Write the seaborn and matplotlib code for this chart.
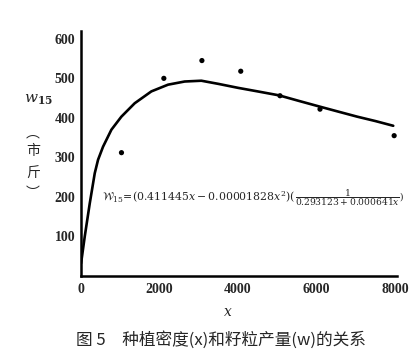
import matplotlib

matplotlib.use("Agg")

import matplotlib.pyplot as plt
import pandas as pd
import seaborn as sns
from matplotlib.ticker import MultipleLocator

density = [1030, 2110, 3080, 4070, 5070, 6090, 7980]
yield_obs = [312, 500, 545, 518, 456, 422, 355]

# Fitted curve
curve_x = [0, 94, 222, 349, 433, 560, 773, 1027, 1367, 1792, 2217, 2641, 3066,
           3500, 4000, 4500, 5045, 5550, 6064, 6550, 7040, 7500, 7957]
curve_w = [32, 100, 184, 260, 294, 327, 370, 403, 437, 467, 484, 492, 494,
           486, 476, 467, 457, 443, 429, 416, 403, 392, 380]

x_ticks = [0, 2000, 4000, 6000, 8000]
y_ticks = [100, 200, 300, 400, 500, 600]

SERIF = ["Liberation Serif", "DejaVu Serif"]
CJK = ["Noto Sans CJK SC", "DejaVu Sans"]


def main() -> None:
    sns.set_theme(style="white")
    plt.rcParams["font.family"] = SERIF
    plt.rcParams["mathtext.fontset"] = "dejavuserif"

    fig = plt.figure(figsize=(4.2, 3.62), dpi=100, facecolor="white")
    ax = fig.add_axes([0.193, 0.2376, 0.752, 0.677])

    pts = pd.DataFrame({"x": density, "w": yield_obs})
    fit = pd.DataFrame({"x": curve_x, "w": curve_w})

    sns.lineplot(data=fit, x="x", y="w", color="black", linewidth=1.9,
                 sort=False, estimator=None, ax=ax)
    sns.scatterplot(data=pts, x="x", y="w", color="black", s=14,
                    edgecolor="none", ax=ax, zorder=3)

    ax.set_xlim(0, 8050)
    ax.set_ylim(0, 620)
    ax.set_xticks(x_ticks)
    ax.xaxis.set_minor_locator(MultipleLocator(1000))
    ax.set_yticks(y_ticks)
    ax.tick_params(axis="both", which="both", direction="in", length=4,
                   width=1.2, color="black", labelsize=10, pad=4)
    ax.tick_params(axis="x", which="major", pad=5)
    for lab in ax.get_xticklabels() + ax.get_yticklabels():
        lab.set_fontweight("bold")

    for side in ("top", "right"):
        ax.spines[side].set_visible(False)
    for side in ("left", "bottom"):
        ax.spines[side].set_color("black")
        ax.spines[side].set_linewidth(1.8)

    ax.set_xlabel("")
    ax.set_ylabel("")
    ax.grid(False)

    # y label: w15 with unit written vertically
    fig.text(39 / 420, 1 - 100 / 362, r"$w_{\mathbf{15}}$", fontsize=11,
             ha="center", va="center")
    fig.text(33 / 420, 1 - 133 / 362, "︵", family=CJK, fontsize=10,
             ha="center", va="center")
    fig.text(33 / 420, 1 - 151 / 362, "市", family=CJK, fontsize=10,
             ha="center", va="center")
    fig.text(33 / 420, 1 - 174 / 362, "斤", family=CJK, fontsize=10,
             ha="center", va="center")
    fig.text(33 / 420, 1 - 193 / 362, "︶", family=CJK, fontsize=10,
             ha="center", va="center")
    fig.text(228 / 420, 1 - 312 / 362, r"$x$", fontsize=10, ha="center", va="center")

    # fitted formula, written in two pieces so the fraction stays compact
    t1 = ax.text(530, 200,
                 r"$\mathcal{W}_{15}\!=\!(0.411445x-0.00001828x^{2})($",
                 fontsize=7.8, ha="left", va="center")
    ax.annotate(r"$\dfrac{1}{0.293123+0.000641x})$", xy=(1, 0.45), xycoords=t1,
                fontsize=6.6, ha="left", va="center")

    fig.text(221 / 420, 1 - 340 / 362, "图 5　种植密度(x)和籽粒产量(w)的关系", family=CJK,
             fontsize=12, ha="center", va="center")

    fig.savefig("out.png", dpi=100, facecolor="white")
    plt.close(fig)


if __name__ == "__main__":
    main()
